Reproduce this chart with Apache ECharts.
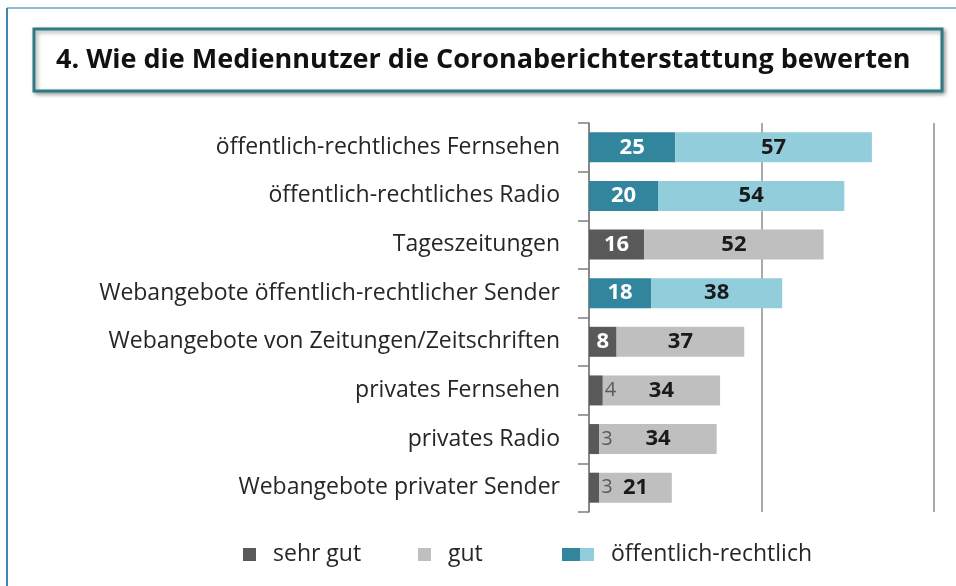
<!DOCTYPE html>
<html>
<head>
<meta charset="utf-8">
<style>
  html, body { margin: 0; padding: 0; background: #fff; }
  #chart { width: 956px; height: 586px; }
</style>
</head>
<body>
<div id="chart"></div>
<script src="https://cdn.jsdelivr.net/npm/echarts@6/dist/echarts.min.js"></script>
<script>
var categories = [
  'öffentlich-rechtliches Fernsehen',
  'öffentlich-rechtliches Radio',
  'Tageszeitungen',
  'Webangebote öffentlich-rechtlicher Sender',
  'Webangebote von Zeitungen/Zeitschriften',
  'privates Fernsehen',
  'privates Radio',
  'Webangebote privater Sender'
];
var sehrGut = [25, 20, 16, 18, 8, 4, 3, 3];
var gut = [57, 54, 52, 38, 37, 34, 34, 21];
var isPublic = [true, true, false, true, false, false, false, false];
var xTicks = [0, 50, 100];

var FONT = '"Open Sans", sans-serif';
var DARK_GRAY = '#595959', LIGHT_GRAY = '#bfbfbf';
var DARK_TEAL = '#31859c', LIGHT_TEAL = '#92cddc';

var myChart = echarts.init(document.getElementById('chart'));

// kleine Werte stehen rechts neben dem Balken
var sehrGutData = sehrGut.map(function (v, i) {
  var small = v < 8;
  return {
    value: v,
    itemStyle: { color: isPublic[i] ? DARK_TEAL : DARK_GRAY },
    label: small
      ? { position: 'right', distance: 2, color: '#5a5a5a', fontWeight: 'normal', fontSize: 20 }
      : { position: 'inside', color: '#ffffff', fontWeight: 'bold' }
  };
});
var gutData = gut.map(function (v, i) {
  return {
    value: v,
    itemStyle: { color: isPublic[i] ? LIGHT_TEAL : LIGHT_GRAY }
  };
});

var legendText = { fontFamily: FONT, fontSize: 23, color: '#262626', padding: [0, 0, 0, 12] };

var option = {
  animation: false,
  textStyle: { fontFamily: FONT },
  title: {
    text: '4. Wie die Mediennutzer die Coronaberichterstattung bewerten',
    left: 51,
    top: 42,
    textStyle: { fontFamily: FONT, fontSize: 27, fontWeight: 'bold', color: '#111' }
  },
  graphic: [
    { type: 'line', shape: { x1: 7, y1: 8, x2: 956, y2: 8 }, style: { stroke: '#6aa6c0', lineWidth: 1.5 } },
    { type: 'line', shape: { x1: 7, y1: 8, x2: 7, y2: 586 }, style: { stroke: '#3f86b0', lineWidth: 2 } },
    {
      type: 'rect', z: -1,
      shape: { x: 34, y: 29, width: 908, height: 62 },
      style: {
        fill: '#fff', stroke: '#2f7b84', lineWidth: 3,
        shadowBlur: 4, shadowOffsetX: 2, shadowOffsetY: 2, shadowColor: 'rgba(0,0,0,0.35)'
      }
    }
  ],
  legend: [
    { data: ['sehr gut'], left: 238, top: 538, itemWidth: 13, itemHeight: 13, icon: 'rect', textStyle: legendText },
    { data: ['gut'], left: 413, top: 538, itemWidth: 13, itemHeight: 13, icon: 'rect', textStyle: legendText },
    { data: ['öffentlich-rechtlich'], left: 557, top: 538, itemWidth: 32, itemHeight: 13, icon: 'rect', textStyle: legendText }
  ],
  grid: { left: 589, top: 123, right: 22, height: 389, containLabel: false },
  xAxis: {
    type: 'value', min: xTicks[0], max: xTicks[xTicks.length - 1], interval: 50,
    axisLine: { show: false }, axisTick: { show: false }, axisLabel: { show: false },
    splitLine: { show: true, lineStyle: { color: '#8c8c8c', width: 1.5 } }
  },
  yAxis: {
    type: 'category', inverse: true, data: categories,
    axisLine: { show: true, lineStyle: { color: '#7f7f7f', width: 1.5 } },
    axisTick: { show: true, length: 11, lineStyle: { color: '#7f7f7f', width: 1.5 } },
    axisLabel: { margin: 29, fontFamily: FONT, fontSize: 23, color: '#262626' }
  },
  series: [
    {
      name: 'sehr gut', type: 'bar', stack: 'total', barWidth: 30,
      itemStyle: { color: DARK_GRAY },
      label: { show: true, fontFamily: FONT, fontSize: 22 },
      data: sehrGutData
    },
    {
      name: 'gut', type: 'bar', stack: 'total', barWidth: 30,
      itemStyle: { color: LIGHT_GRAY },
      label: { show: true, position: 'inside', fontFamily: FONT, fontSize: 22, fontWeight: 'bold', color: '#1a1a1a' },
      data: gutData
    },
    {
      // nur für die Legende (zweifarbiges Symbol)
      name: 'öffentlich-rechtlich', type: 'bar', stack: 'total', barWidth: 30,
      itemStyle: {
        color: {
          type: 'linear', x: 0, y: 0, x2: 1, y2: 0,
          colorStops: [
            { offset: 0, color: DARK_TEAL }, { offset: 0.55, color: DARK_TEAL },
            { offset: 0.55, color: LIGHT_TEAL }, { offset: 1, color: LIGHT_TEAL }
          ]
        }
      },
      data: []
    }
  ]
};
myChart.setOption(option);
</script>
</body>
</html>
